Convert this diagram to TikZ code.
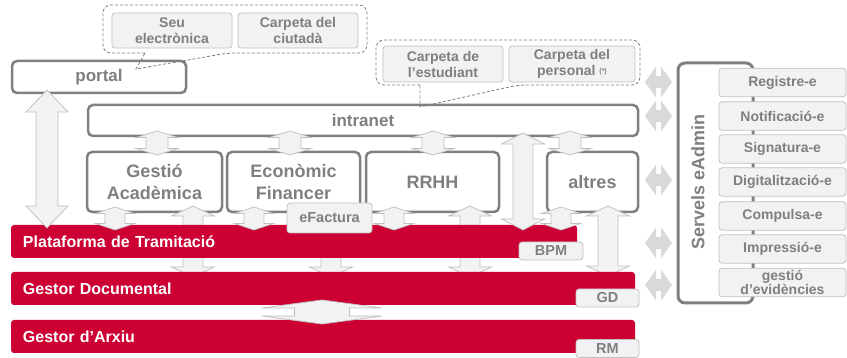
\documentclass[tikz,border=0pt]{standalone}
\usepackage{fontspec}
\setmainfont{Liberation Sans}
\definecolor{bgray}{HTML}{808080}
\definecolor{tgray}{HTML}{7F7F7F}
\definecolor{pred}{HTML}{CC0033}
\definecolor{lfill}{HTML}{F2F2F2}
\definecolor{lline}{HTML}{BFBFBF}
\definecolor{sgray}{HTML}{D9D9D9}
% vertical double block arrow: x, ytop, ybottom, head half width, shaft half width, head length
\newcommand\VDbl[6]{\path[blockarrow] (#1,#2) -- (#1+#4,#2+#6) -- (#1+#5,#2+#6) -- (#1+#5,#3-#6) -- (#1+#4,#3-#6) -- (#1,#3) -- (#1-#4,#3-#6) -- (#1-#5,#3-#6) -- (#1-#5,#2+#6) -- (#1-#4,#2+#6) -- cycle;}
% horizontal double block arrow: y, xleft, xright, head half height, shaft half height, head length
\newcommand\HDbl[6]{\path[sidearrow] (#2,#1) -- (#2+#6,#1-#4) -- (#2+#6,#1-#5) -- (#3-#6,#1-#5) -- (#3-#6,#1-#4) -- (#3,#1) -- (#3-#6,#1+#4) -- (#3-#6,#1+#5) -- (#2+#6,#1+#5) -- (#2+#6,#1+#4) -- cycle;}
\begin{document}
\begin{tikzpicture}[x=1pt,y=-1pt,
  modbox/.style={draw=bgray, line width=2.5pt, rounded corners=5pt, text=tgray,
    font=\bfseries\fontsize{18}{22}\selectfont, align=center, inner sep=0pt},
  redbar/.style={fill=pred, rounded corners=3pt, text=white,
    font=\bfseries\fontsize{16}{18}\selectfont, align=left, inner xsep=12pt, inner ysep=0pt},
  tagbox/.style={fill=lfill, draw=lline, line width=0.75pt, rounded corners=3pt, text=tgray,
    font=\bfseries\fontsize{14.5}{16}\selectfont, inner sep=0pt, align=center},
  smalltag/.style={tagbox, font=\bfseries\fontsize{14}{16}\selectfont},
  svcbox/.style={tagbox, font=\bfseries\fontsize{14}{16}\selectfont, minimum width=127pt, minimum height=28.5pt},
  blockarrow/.style={fill=lfill, draw=lline, line width=0.75pt},
  sidearrow/.style={fill=sgray},
  callout/.style={draw=tgray, dash pattern=on 3pt off 2pt, line width=0.8pt}]
\useasboundingbox (0,0) rectangle (847,358);

% upper boxes
\node[modbox, minimum width=174pt, minimum height=32pt, font=\bfseries\fontsize{17}{20}\selectfont] (portal) at (99,77) {portal};
\node[modbox, minimum width=550pt, minimum height=31pt, font=\bfseries\fontsize{17}{20}\selectfont] (intranet) at (363,120.5) {intranet};
\node[modbox, minimum width=135pt, minimum height=60pt] (gestio) at (154.5,182) {Gestió\\Acadèmica};
\node[modbox, minimum width=133pt, minimum height=60pt] (economic) at (293.5,182) {Econòmic\\Financer};
\node[modbox, minimum width=133pt, minimum height=60pt] (rrhh) at (432.5,182) {RRHH};
\node[modbox, minimum width=91pt, minimum height=60pt] (altres) at (592.5,182) {altres};

% long arrows passing behind the Plataforma bar
\VDbl{193}{206}{277}{21.5}{10}{10}
\VDbl{331}{206}{277}{21.5}{10}{10}
\VDbl{470}{206}{277}{21.5}{10}{10}
\VDbl{608}{206}{276}{21.5}{10}{10}

% red bars
\node[redbar, minimum height=33pt, text width=542pt] (plat) at (294,241.5) {Plataforma de Tramitació};
\node[redbar, minimum height=33pt, text width=600pt] (gd) at (323,288.5) {Gestor Documental};
\node[redbar, minimum height=33pt, text width=600pt] (arxiu) at (323,336.5) {Gestor d’Arxiu};

% arrows on top
\VDbl{47}{90}{228}{21}{11}{22}
\VDbl{157}{131}{155}{21}{11}{6.5}
\VDbl{290}{131}{155}{21}{11}{6.5}
\VDbl{433}{131}{155}{21}{11}{6.5}
\VDbl{570}{131}{155}{21}{11}{6.5}
\VDbl{523}{133}{230}{21.5}{10}{11}
\VDbl{115}{207}{230}{19.5}{10}{6.5}
\VDbl{254}{207}{230}{19.5}{10}{6.5}
\VDbl{394}{207}{230}{19.5}{10}{6.5}
\VDbl{561}{207}{230}{19.5}{10}{6.5}
\VDbl{322}{300}{324}{60}{27.5}{8}

% tags
\node[tagbox, minimum width=85pt, minimum height=30pt] (efactura) at (329.5,218) {eFactura};
\node[tagbox, minimum width=64pt, minimum height=18pt] (bpm) at (551,251) {BPM};
\node[tagbox, minimum width=63pt, minimum height=18pt] (gdtag) at (607.5,298) {GD};
\node[tagbox, minimum width=63pt, minimum height=18pt] (rmtag) at (607.5,348.5) {RM};

% callouts
\draw[callout, rounded corners=8pt] (145,53) -- (103,53) -- (103,5) -- (367,5) -- (367,53) -- (228,53) [sharp corners] -- (136,69) -- cycle;
\node[smalltag, minimum width=120pt, minimum height=35pt] (seu) at (172,30.5) {Seu\\electrònica};
\node[smalltag, minimum width=120pt, minimum height=35pt] (ciutada) at (298,30.5) {Carpeta del\\ciutadà};

\draw[callout, rounded corners=8pt] (420,85) -- (376,85) -- (376,40) -- (640,40) -- (640,85) -- (518,85) [sharp corners] -- (420,107) -- cycle;
\node[smalltag, minimum width=120pt, minimum height=36pt] (estudiant) at (443,64) {Carpeta de\\l’estudiant};
\node[smalltag, minimum width=126pt, minimum height=36pt] (personal) at (572,64) {Carpeta del\\personal \raisebox{2.5pt}{\fontsize{7}{7}\selectfont(*)}};

% side arrows
\HDbl{82}{645}{672}{15.5}{6}{11}
\HDbl{116}{645}{672}{15.5}{6}{11}
\HDbl{180}{645}{672}{15.5}{6}{11}
\HDbl{243}{645}{672}{15.5}{6}{11}
\HDbl{285}{645}{672}{15.5}{6}{11}

% Servels eAdmin
\node[draw=bgray, line width=3pt, rounded corners=7pt, minimum width=75pt, minimum height=240pt, inner sep=0pt] (eadmin) at (715.5,183) {};
\node[rotate=90, text=tgray, font=\bfseries\fontsize{18}{20}\selectfont] (eadmintxt) at (698,182) {Servels eAdmin};

\node[svcbox] (registre) at (782.5,82.5) {Registre-e};
\node[svcbox] (notif) at (782.5,116) {Notificació-e};
\node[svcbox] (signatura) at (782.5,149) {Signatura-e};
\node[svcbox] (digital) at (782.5,182) {Digitalització-e};
\node[svcbox] (compulsa) at (782.5,216) {Compulsa-e};
\node[svcbox] (impressio) at (782.5,249) {Impressió-e};
\node[svcbox, font=\bfseries\fontsize{14}{14.5}\selectfont] (evidencies) at (782.5,282.5) {gestió\\d’evidències};
\end{tikzpicture}
\end{document}
